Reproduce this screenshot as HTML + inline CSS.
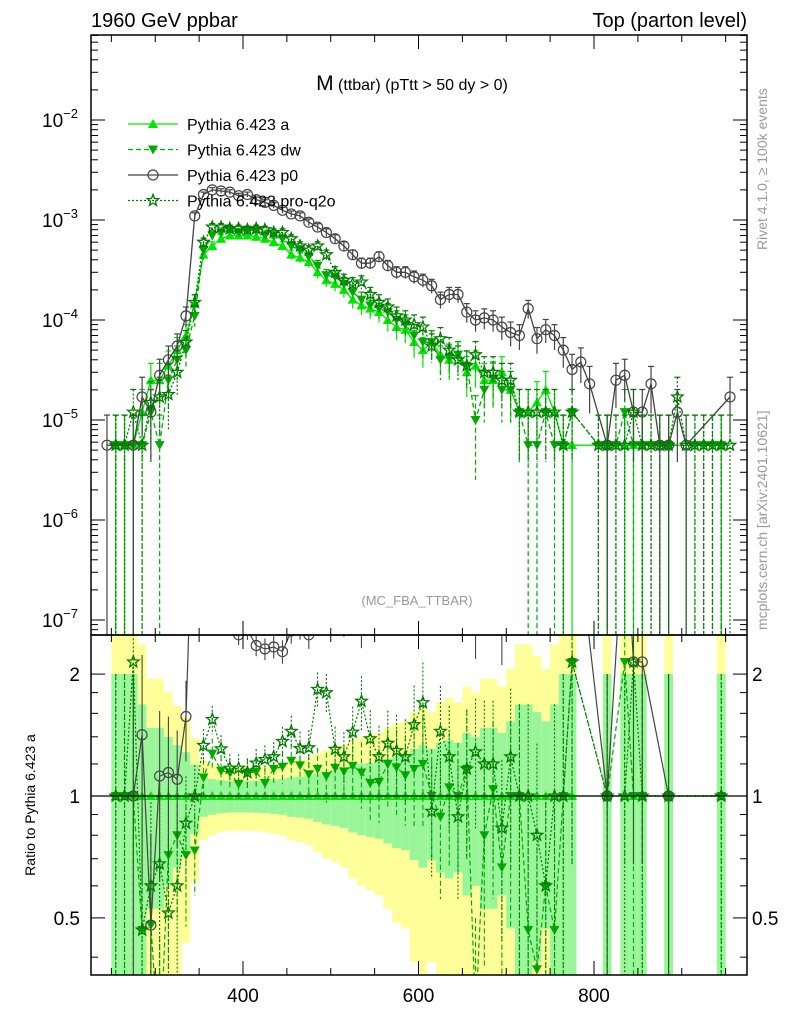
<!DOCTYPE html>
<html><head><meta charset="utf-8"><style>
html,body{margin:0;padding:0;background:#fff;width:786px;height:1024px;overflow:hidden;}
svg{display:block;font-family:"Liberation Sans",sans-serif;}
</style></head><body>
<svg id="chart" width="786" height="1024" viewBox="0 0 786 1024">
<rect x="0" y="0" width="786" height="1024" fill="#fff"/>
<g id="bands"></g>
<g id="marks"></g>
<g id="axes"></g>
<text x="91" y="27" font-size="20">1960 GeV ppbar</text>
<text x="747" y="27" font-size="20" text-anchor="end">Top (parton level)</text>
<text x="412" y="90" font-size="16" text-anchor="middle"><tspan font-size="21">M</tspan> (ttbar) (pTtt &gt; 50 dy &gt; 0)</text>
<text x="417" y="605" font-size="13" fill="#999" text-anchor="middle">(MC_FBA_TTBAR)</text>
<text transform="translate(767,250) rotate(-90)" font-size="14" fill="#999">Rivet 4.1.0, ≥ 100k events</text>
<text transform="translate(767,630) rotate(-90)" font-size="14" fill="#999">mcplots.cern.ch [arXiv:2401.10621]</text>
<text transform="translate(35,805) rotate(-90)" font-size="14" text-anchor="middle">Ratio to Pythia 6.423 a</text>
<g id="legend"></g>
</svg>
<script>
const bins = [245,255,265,275,285,295,305,315,325,335,345,355,365,375,385,395,405,415,425,435,445,455,465,475,485,495,505,515,525,535,545,555,565,575,585,595,605,615,625,635,645,655,665,675,685,695,705,715,725,735,745,755,765,775,785,795,805,815,825,835,845,855,865,875,885,895,905,915,925,935,945,955];
const seriesA = [null,5.6e-6,5.6e-6,5.6e-6,1.2e-5,2.5e-5,2.5e-5,3.5e-5,5e-5,7e-5,1.5e-4,4.5e-4,5.5e-4,6.5e-4,7e-4,7e-4,7e-4,6.8e-4,6.5e-4,6e-4,5.5e-4,4.5e-4,4.2e-4,3.8e-4,3e-4,2.5e-4,2.3e-4,2e-4,1.6e-4,1.4e-4,1.3e-4,1.2e-4,1e-4,8.5e-5,8e-5,6e-5,5e-5,6e-5,4.5e-5,4e-5,4.5e-5,3e-5,3.5e-5,2.5e-5,2.5e-5,3e-5,2e-5,1.2e-5,1.2e-5,1.5e-5,2e-5,1.2e-5,5.6e-6,5.6e-6,null,null,null,5.6e-6,null,5.6e-6,5.6e-6,5.6e-6,null,null,5.6e-6,null,null,null,null,null,5.6e-6,null];
const seriesDw = [null,5.6e-6,5.6e-6,5.6e-6,5.6e-6,1.2e-5,5.6e-6,2.5e-5,4e-5,5e-5,1.1e-4,5e-4,7e-4,7.5e-4,8e-4,7.5e-4,8e-4,7.8e-4,7e-4,7e-4,6.5e-4,5.5e-4,5e-4,4.3e-4,3.5e-4,2.8e-4,2.7e-4,2.3e-4,1.9e-4,1.6e-4,1.4e-4,1.3e-4,1.2e-4,1e-4,9e-5,7e-5,6e-5,6e-5,4e-5,4.2e-5,4.5e-5,3.5e-5,1e-5,2e-5,2.6e-5,2e-5,2e-5,1.2e-5,5.6e-6,5.6e-6,1.2e-5,5.6e-6,5.6e-6,1.2e-5,null,null,5.6e-6,5.6e-6,5.6e-6,1.2e-5,5.6e-6,5.6e-6,5.6e-6,5.6e-6,5.6e-6,null,null,5.6e-6,5.6e-6,5.6e-6,5.6e-6,null];
const seriesP0 = [5.6e-6,null,null,5.6e-6,1.7e-5,1.2e-5,2.8e-5,4e-5,5.5e-5,1.1e-4,1.1e-3,1.8e-3,2e-3,1.95e-3,1.9e-3,1.75e-3,1.8e-3,1.6e-3,1.5e-3,1.4e-3,1.25e-3,1.15e-3,1.1e-3,9.5e-4,8.5e-4,7.5e-4,6.5e-4,5.5e-4,4.5e-4,3.7e-4,3.7e-4,4.3e-4,3.5e-4,3e-4,3e-4,2.7e-4,2.5e-4,2.2e-4,1.6e-4,1.8e-4,1.8e-4,1.2e-4,1e-4,1.05e-4,1e-4,8.5e-5,7.5e-5,7e-5,1.3e-4,6.5e-5,8e-5,7e-5,5e-5,3.2e-5,3.8e-5,2.3e-5,null,5.6e-6,2.5e-5,2.8e-5,1.2e-5,1.2e-5,2.3e-5,5.6e-6,5.6e-6,1.2e-5,5.6e-6,null,null,null,null,1.7e-5];
const seriesQ2o = [null,5.6e-6,5.6e-6,1.2e-5,5.6e-6,1.5e-5,1.7e-5,1.8e-5,3e-5,6e-5,1.5e-4,6e-4,8.5e-4,8.5e-4,8.2e-4,8.2e-4,8e-4,8.2e-4,8e-4,7.5e-4,7.5e-4,6.5e-4,5.5e-4,5e-4,5.5e-4,4.5e-4,3e-4,2.5e-4,2.3e-4,2.4e-4,1.8e-4,1.5e-4,1.35e-4,1.1e-4,1e-4,9e-5,8.5e-5,5.5e-5,6.5e-5,5e-5,4e-5,3.5e-5,4.5e-5,3e-5,3e-5,2.5e-5,2.5e-5,1.2e-5,1.2e-5,1.2e-5,1.2e-5,1.2e-5,5.6e-6,1.2e-5,null,null,5.6e-6,5.6e-6,5.6e-6,5.6e-6,1.2e-5,5.6e-6,5.6e-6,5.6e-6,5.6e-6,1.7e-5,5.6e-6,5.6e-6,5.6e-6,5.6e-6,5.6e-6,5.6e-6];
const xTicks = [400,600,800];
const yTickExp = [-2,-3,-4,-5,-6,-7];
const ratioTicks = [2,1,0.5];
const ratioTickLabels = ["2","1","0.5"];

const NS="http://www.w3.org/2000/svg";
const L=91,R=747,T=35,MB=635,B=975;
const evW=5.6e-6;
function xs(v){return 243+(v-400)*0.8775;}
function ys(v){return 120+100*(-2-Math.log10(v));}
function yr(r){return 796-405*Math.log10(r);}
function mk(tag,attrs,parent){const e=document.createElementNS(NS,tag);for(const k in attrs)e.setAttribute(k,attrs[k]);parent.appendChild(e);return e;}
const bandsG=document.getElementById('bands'),marksG=document.getElementById('marks'),axesG=document.getElementById('axes'),legG=document.getElementById('legend');

const defs=mk('defs',{},document.getElementById('chart'));
const c1=mk('clipPath',{id:'cmain'},defs);mk('rect',{x:L,y:T,width:R-L,height:MB-T},c1);
const c2=mk('clipPath',{id:'cratio'},defs);mk('rect',{x:L,y:MB,width:R-L,height:B-MB},c2);

const bg=mk('g',{'clip-path':'url(#cratio)'},bandsG);
bins.forEach((b,i)=>{
  const v=seriesA[i]; if(v==null) return;
  const e=1/Math.sqrt(v/evW);
  const x0=xs(b-5),w=xs(b+5)-x0;
  const yl=yr(Math.max(1-2*e,0.01)),yh=yr(1+2*e);
  const r1=mk('rect',{x:x0,y:yh,width:w,height:yl-yh,fill:'#ffff99'},bg);
  
  
  const gl=yr(Math.max(1-e,0.01)),gh=yr(1+e);
  const r2=mk('rect',{x:x0,y:gh,width:w,height:gl-gh,fill:'#99f599'},bg);
  
  
});

const styles=[
 {name:'a',data:seriesA,color:'#00e600',dash:'',marker:'tri-up',label:'Pythia 6.423 a'},
 {name:'dw',data:seriesDw,color:'#00aa00',dash:'5,3',marker:'tri-down',label:'Pythia 6.423 dw'},
 {name:'p0',data:seriesP0,color:'#444',dash:'',marker:'circle',label:'Pythia 6.423 p0'},
 {name:'q2o',data:seriesQ2o,color:'#007a00',dash:'2,2',marker:'star',label:'Pythia 6.423 pro-q2o'}
];
function marker(g,type,x,y,color){
  let e;
  if(type==='tri-up') e=mk('path',{d:`M${x},${y-5}L${x+5},${y+4}L${x-5},${y+4}Z`,fill:color},g);
  else if(type==='tri-down') e=mk('path',{d:`M${x},${y+5}L${x+5},${y-4}L${x-5},${y-4}Z`,fill:color},g);
  else if(type==='circle') e=mk('circle',{cx:x,cy:y,r:5,fill:'none',stroke:color,'stroke-width':1.2},g);
  else {let p='';for(let k=0;k<10;k++){const a=-Math.PI/2+k*Math.PI/5,r=k%2?2.5:6;p+=(k?'L':'M')+(x+r*Math.cos(a)).toFixed(1)+','+(y+r*Math.sin(a)).toFixed(1);}e=mk('path',{d:p+'Z',fill:'none',stroke:color,'stroke-width':1.3},g);}
  return e;
}
styles.forEach(s=>{
  const g=mk('g',{'clip-path':'url(#cmain)'},marksG);
  
  
  let d='';
  s.data.forEach((v,i)=>{ if(v==null) return; d+=(d?'L':'M')+xs(bins[i]).toFixed(1)+','+ys(v).toFixed(1);});
  mk('path',{d:d,fill:'none',stroke:s.color,'stroke-width':1.3,'stroke-dasharray':s.dash},g);
  s.data.forEach((v,i)=>{ if(v==null) return;
    const e=1/Math.sqrt(v/evW), x=xs(bins[i]);
    const yh=ys(v*(1+e)), yl=e>=0.999?MB+5:ys(v*(1-e));
    mk('line',{x1:x,x2:x,y1:yh,y2:yl,stroke:s.color,'stroke-width':1.2,'stroke-dasharray':s.dash},g);
    mk('line',{x1:x-3,x2:x+3,y1:yh,y2:yh,stroke:s.color,'stroke-width':1.2},g);
    const m=marker(g,s.marker,x,ys(v),s.color);
    
    
  });
  const gr=mk('g',{'clip-path':'url(#cratio)'},marksG);
  
  
  let dr='';
  s.data.forEach((v,i)=>{ const a=seriesA[i]; if(v==null||a==null) return;
    const r=v/a; dr+=(dr?'L':'M')+xs(bins[i]).toFixed(1)+','+yr(r).toFixed(1);});
  mk('path',{d:dr,fill:'none',stroke:s.color,'stroke-width':1.2,'stroke-dasharray':s.dash},gr);
  s.data.forEach((v,i)=>{ const a=seriesA[i]; if(v==null||a==null) return;
    const r=v/a, x=xs(bins[i]), e=1/Math.sqrt(v/evW);
    if(s.name!=='a'){
      mk('line',{x1:x,x2:x,y1:yr(r*(1+e)),y2:e>=0.999?B+5:yr(r*(1-e)),stroke:s.color,'stroke-width':1.1,'stroke-dasharray':s.dash},gr);
    }
    const m=marker(gr,s.marker,x,yr(r),s.color);
    
    
  });
});
mk('line',{x1:L,x2:R,y1:yr(1),y2:yr(1),stroke:'#000','stroke-width':1.3},axesG);

mk('rect',{x:L,y:T,width:R-L,height:MB-T,fill:'none',stroke:'#000','stroke-width':1.5},axesG);
mk('rect',{x:L,y:MB,width:R-L,height:B-MB,fill:'none',stroke:'#000','stroke-width':1.5},axesG);
for(let v=250;v<=950;v+=50){
  const x=xs(v), major=xTicks.includes(v), len=major?14:7;
  [[T,1],[MB,-1],[MB,1],[B,-1]].forEach(([y,dir])=>mk('line',{x1:x,x2:x,y1:y,y2:y+dir*len,stroke:'#000','stroke-width':1},axesG));
}
xTicks.forEach(v=>{const t=mk('text',{x:xs(v),y:1002,'font-size':19,'text-anchor':'middle'},axesG);t.textContent=v;
  
  });
for(let e=-8;e<=-1;e++){
  for(let m=1;m<10;m++){
    const y=ys(m*Math.pow(10,e)); if(y<T||y>MB) continue;
    const len=m===1?14:7;
    mk('line',{x1:L,x2:L+len,y1:y,y2:y,stroke:'#000'},axesG);
    mk('line',{x1:R,x2:R-len,y1:y,y2:y,stroke:'#000'},axesG);
  }
}
yTickExp.forEach(e=>{const t=mk('text',{x:60,y:ys(Math.pow(10,e))+7,'font-size':19,'text-anchor':'middle'},axesG);
  t.innerHTML='10<tspan dy="-9" font-size="13">−'+(-e)+'</tspan>';
  
  });
[0.4,0.5,0.6,0.7,0.8,0.9,1,2].forEach(r=>{const y=yr(r);const len=(r===1||r===2||r===0.5)?14:7;
  mk('line',{x1:L,x2:L+len,y1:y,y2:y,stroke:'#000'},axesG);mk('line',{x1:R,x2:R-len,y1:y,y2:y,stroke:'#000'},axesG);});
[1.2,1.4,1.6,1.8].forEach(r=>{const y=yr(r);mk('line',{x1:L,x2:L+7,y1:y,y2:y,stroke:'#000'},axesG);mk('line',{x1:R,x2:R-7,y1:y,y2:y,stroke:'#000'},axesG);});
ratioTicks.forEach((r,i)=>{
  const t1=mk('text',{x:80,y:yr(r)+7,'font-size':19,'text-anchor':'end'},axesG);t1.textContent=ratioTickLabels[i];
  
  
  const t2=mk('text',{x:752,y:yr(r)+7,'font-size':19},axesG);t2.textContent=ratioTickLabels[i];
  
  
});
styles.forEach((s,i)=>{
  const y=124+i*25.5;
  const g=mk('g',{},legG);
  
  
  mk('line',{x1:128,x2:178,y1:y,y2:y,stroke:s.color,'stroke-width':1.3,'stroke-dasharray':s.dash},g);
  marker(g,s.marker,153,y,s.color);
  const t=mk('text',{x:187,y:y+6,'font-size':16},g);t.textContent=s.label;
});
</script>
</body></html>
